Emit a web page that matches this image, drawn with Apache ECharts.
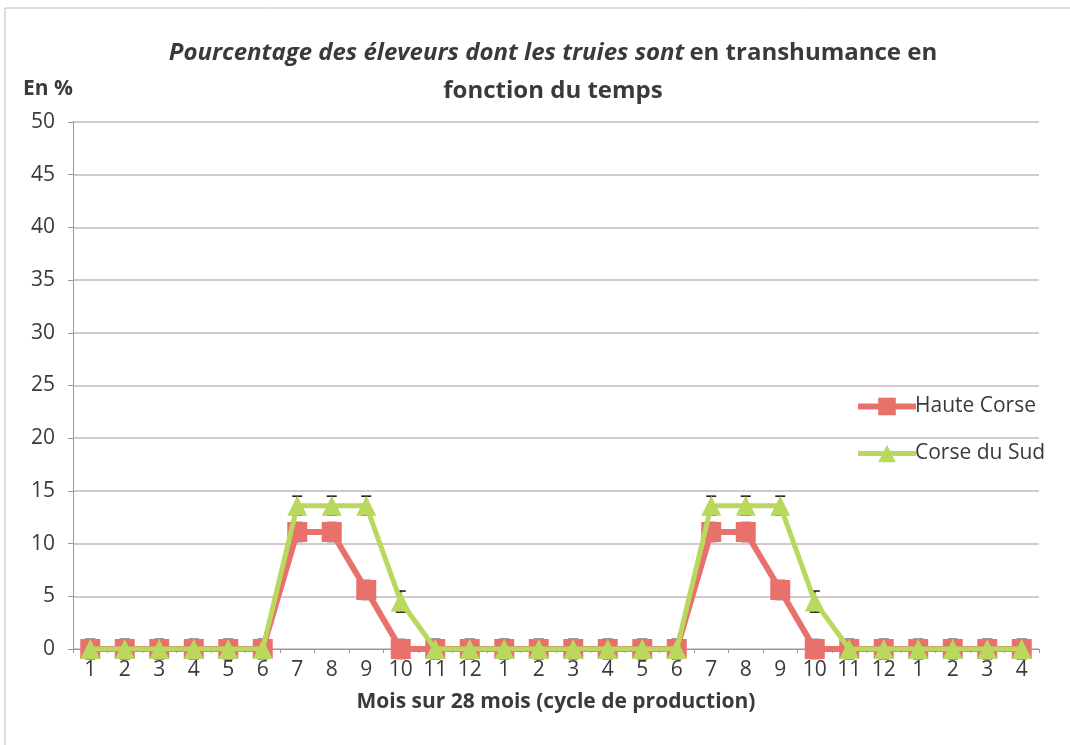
<!DOCTYPE html>
<html>
<head>
<meta charset="utf-8">
<script src="https://cdn.jsdelivr.net/npm/echarts@6/dist/echarts.min.js"></script>
<style>
html, body { margin: 0; padding: 0; background: #fff; }
#chart { width: 1070px; height: 745px; }
</style>
</head>
<body>
<div id="chart"></div>
<script>
// mois sur 28 mois
const months = ['1','2','3','4','5','6','7','8','9','10','11','12','1','2','3','4','5','6','7','8','9','10','11','12','1','2','3','4']
const hauteCorse = [0,0,0,0,0,0,11.1,11.1,5.6,0,0,0,0,0,0,0,0,0,11.1,11.1,5.6,0,0,0,0,0,0,0]
const corseSud = [0,0,0,0,0,0,13.6,13.6,13.6,4.5,0,0,0,0,0,0,0,0,13.6,13.6,13.6,4.5,0,0,0,0,0,0]
const errHaute = [0.9,0.9,0.9,0.9,0.9,0.9,0.9,0.9,0.9,0.9,0.9,0.9,0.9,0.9,0.9,0.9,0.9,0.9,0.9,0.9,0.9,0.9,0.9,0.9,0.9,0.9,0.9,0.9]
const errSud = [0.9,0.9,0.9,0.9,0.9,0.9,0.9,0.9,0.9,1,0.9,0.9,0.9,0.9,0.9,0.9,0.9,0.9,0.9,0.9,0.9,1,0.9,0.9,0.9,0.9,0.9,0.9]

const font = '"Open Sans", Lato, sans-serif'
const red = '#e8716c'
const green = '#b9d85e'
const txt = '#3a3a3a'

// barres d'erreur noires
function errorBars(values, errs) {
  return {
    type: 'custom',
    silent: true,
    z: 1,
    data: values.map((v, i) => [i, v - errs[i], v + errs[i]]),
    renderItem: (params, api) => {
      const lo = api.coord([api.value(0), api.value(1)])
      const hi = api.coord([api.value(0), api.value(2)])
      const w = 5
      const style = { stroke: '#111', lineWidth: 1.5 }
      return {
        type: 'group',
        children: [
          { type: 'line', shape: { x1: hi[0], y1: hi[1], x2: lo[0], y2: lo[1] }, style },
          { type: 'line', shape: { x1: hi[0] - w, y1: hi[1], x2: hi[0] + w, y2: hi[1] }, style },
          { type: 'line', shape: { x1: lo[0] - w, y1: lo[1], x2: lo[0] + w, y2: lo[1] }, style }
        ]
      }
    }
  }
}

const chart = echarts.init(document.getElementById('chart'))
chart.setOption({
  animation: false,
  backgroundColor: '#fff',
  title: {
    text: '{i|Pourcentage des éleveurs dont les truies sont} {n|en transhumance en}\n{n|fonction du temps}',
    left: 548,
    textAlign: 'center',
    top: 29,
    textStyle: {
      rich: {
        i: { fontFamily: font, fontSize: 24, fontWeight: 'bold', fontStyle: 'italic', color: txt, lineHeight: 38 },
        n: { fontFamily: font, fontSize: 24, fontWeight: 'bold', color: txt, lineHeight: 38 }
      }
    }
  },
  legend: {
    data: [
      { name: 'Haute Corse', lineStyle: { width: 6 } },
      { name: 'Corse du Sud', lineStyle: { width: 5 } }
    ],
    orient: 'vertical',
    left: 850,
    top: 391,
    itemWidth: 58,
    itemHeight: 22,
    itemGap: 26,
    textStyle: { fontFamily: font, fontSize: 21, color: txt, padding: [0, 0, 0, -6] }
  },
  grid: { left: 73, right: 31, top: 122, bottom: 96 },
  xAxis: {
    type: 'category',
    data: months,
    name: 'Mois sur 28 mois (cycle de production)',
    nameLocation: 'middle',
    nameGap: 43,
    nameTextStyle: { fontFamily: font, fontSize: 21, fontWeight: 'bold', color: txt },
    axisLine: { lineStyle: { color: '#999' } },
    axisTick: { show: true, length: 4, lineStyle: { color: '#999' } },
    axisLabel: { fontFamily: font, fontSize: 21, color: txt, margin: 11 }
  },
  yAxis: {
    type: 'value',
    min: 0,
    max: 50,
    interval: 5,
    name: 'En %',
    nameLocation: 'end',
    nameGap: 22,
    nameTextStyle: { fontFamily: font, fontSize: 21, fontWeight: 'bold', color: txt, align: 'right' },
    axisLine: { show: true, lineStyle: { color: '#999' } },
    axisTick: { show: true, length: 5, lineStyle: { color: '#999' } },
    axisLabel: { fontFamily: font, fontSize: 21, color: txt, margin: 18 },
    splitLine: { lineStyle: { color: '#c9b4ba', width: 1.5 } }
  },
  series: [
    errorBars(hauteCorse, errHaute),
    {
      name: 'Haute Corse',
      type: 'line',
      data: hauteCorse,
      z: 2,
      symbol: 'rect',
      symbolSize: 20,
      itemStyle: { color: red },
      lineStyle: { color: red, width: 6 }
    },
    errorBars(corseSud, errSud),
    {
      name: 'Corse du Sud',
      type: 'line',
      data: corseSud,
      z: 3,
      symbol: 'triangle',
      symbolSize: 20,
      itemStyle: { color: green },
      lineStyle: { color: green, width: 5 }
    }
  ],
  graphic: [
    { type: 'rect', shape: { x: 5, y: 8, width: 1070, height: 740 }, style: { fill: 'none', stroke: '#bbb', lineWidth: 1 }, silent: true }
  ]
})
</script>
</body>
</html>
